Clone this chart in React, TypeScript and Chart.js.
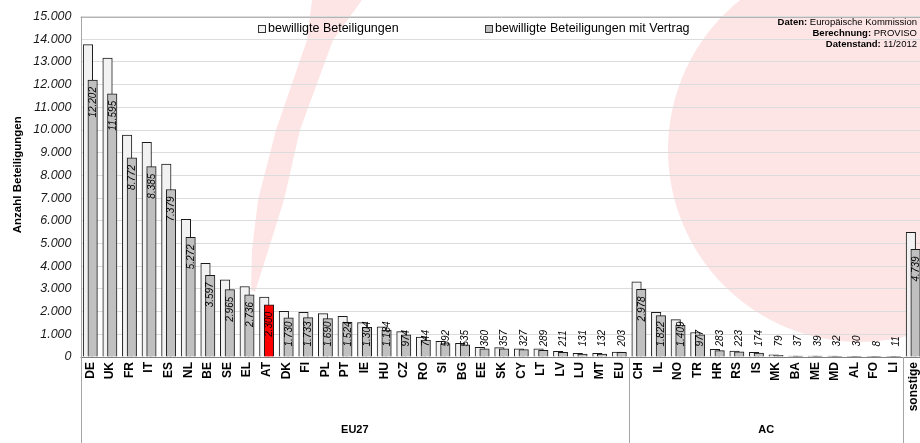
import React, { useEffect, useRef } from 'react';
import { Chart, registerables } from 'chart.js';

Chart.register(...registerables);

// ---------- data ----------
const categories = [
  'DE', 'UK', 'FR', 'IT', 'ES', 'NL', 'BE', 'SE', 'EL', 'AT', 'DK', 'FI', 'PL', 'PT',
  'IE', 'HU', 'CZ', 'RO', 'SI', 'BG', 'EE', 'SK', 'CY', 'LT', 'LV', 'LU', 'MT', 'EU',
  'CH', 'IL', 'NO', 'TR', 'HR', 'RS', 'IS', 'MK', 'BA', 'ME', 'MD', 'AL', 'FO', 'LI',
  'sonstige',
];

const approved = [
  13760, 13170, 9780, 9460, 8500, 6065, 4125, 3400, 3105, 2640, 2010, 1970, 1910, 1790,
  1515, 1325, 1120, 875, 685, 600, 424, 410, 365, 360, 250, 165, 160, 220,
  3310, 1970, 1650, 1080, 335, 260, 210, 100, 45, 45, 40, 35, 10, 15,
  5495,
];

const withContract = [
  12202, 11595, 8772, 8385, 7379, 5272, 3597, 2965, 2736, 2300, 1730, 1733, 1690, 1524,
  1304, 1184, 974, 744, 592, 535, 360, 357, 327, 289, 211, 131, 132, 203,
  2978, 1822, 1409, 977, 283, 223, 174, 79, 37, 39, 32, 30, 8, 11,
  4739,
];

const highlighted = 'AT';

const groups = [
  { label: 'EU27', first: 'DE', last: 'EU' },
  { label: 'AC', first: 'CH', last: 'LI' },
];

const legendLabels = ['bewilligte Beteiligungen', 'bewilligte Beteiligungen mit Vertrag'];
const yTitle = 'Anzahl Beteiligungen';
const sourceLines = [
  ['Daten:', ' Europäische Kommission'],
  ['Berechnung:', ' PROVISO'],
  ['Datenstand:', ' 11/2012'],
];
const yMin = 0;
const yMax = 15000;
const yStep = 1000;

// ---------- styles ----------
const FONT = 'Arial, "Liberation Sans", sans-serif';
const WHITE_FILL = '#f2f2f2';
const GRAY_FILL = '#c0c0c0';
const RED_FILL = '#ff0000';
const BAR_BORDER = '#1a1a1a';
const PINK = '#fde5e5';
const BAR_SHIFT = 2.35;

const fmt = (n: number) => String(Math.round(n)).replace(/\B(?=(\d{3})+(?!\d))/g, '.');

export default function App() {
  const ref = useRef<HTMLCanvasElement | null>(null);

  useEffect(() => {
    const canvas = ref.current;
    if (!canvas) return;

    const watermark = {
      id: 'watermark',
      beforeDraw(chart: any) {
        const ctx = chart.ctx;
        ctx.save();
        ctx.fillStyle = PINK;
        ctx.beginPath();
        ctx.arc(860, 150, 192, 0, Math.PI * 2);
        ctx.fill();
        // brush stroke
        const right = [[362, 0], [333, 40], [300, 130], [284, 200], [262, 270], [255, 292]];
        const left = [[251, 290], [252, 250], [258, 200], [276, 130], [307, 40], [312, 0]];
        ctx.beginPath();
        ctx.moveTo(right[0][0], right[0][1]);
        for (const p of right.slice(1)) ctx.lineTo(p[0], p[1]);
        for (const p of left) ctx.lineTo(p[0], p[1]);
        ctx.closePath();
        ctx.fill();
        ctx.restore();
      },
    };

    const shift = {
      id: 'shift',
      beforeDatasetDraw(chart: any, args: any) {
        chart.ctx.save();
        chart.ctx.translate(args.index === 0 ? -BAR_SHIFT : BAR_SHIFT, 0);
      },
      afterDatasetDraw(chart: any) {
        chart.ctx.restore();
      },
    };

    const decorations = {
      id: 'decorations',
      beforeDatasetsDraw(chart: any) {
        const { ctx, chartArea } = chart;
        ctx.save();
        ctx.strokeStyle = '#b4b4b4';
        ctx.lineWidth = 1;
        ctx.beginPath();
        ctx.moveTo(chartArea.left, Math.round(chartArea.top) + 0.5);
        ctx.lineTo(chartArea.right, Math.round(chartArea.top) + 0.5);
        ctx.stroke();
        ctx.restore();
      },
      afterDatasetsDraw(chart: any) {
        const { ctx, chartArea, scales } = chart;
        const x = scales.x;
        const H = chart.height;

        // data labels for the "mit Vertrag" series
        const meta = chart.getDatasetMeta(1);
        ctx.save();
        ctx.font = `italic 10px ${FONT}`;
        ctx.fillStyle = '#000';
        ctx.textAlign = 'left';
        ctx.textBaseline = 'middle';
        meta.data.forEach((el: any, i: number) => {
          const txt = fmt(withContract[i]);
          const w = ctx.measureText(txt).width;
          const bottom = Math.min(el.y + 7 + w, el.base - 10);
          ctx.save();
          ctx.translate(el.x + BAR_SHIFT + 0.5, bottom);
          ctx.rotate(-Math.PI / 2);
          ctx.fillText(txt, 0, 0);
          ctx.restore();
        });
        ctx.restore();

        // axis lines
        const bottomY = Math.round(chartArea.bottom) + 0.5;
        const leftX = Math.round(chartArea.left) + 0.5;
        ctx.save();
        ctx.strokeStyle = '#7f7f7f';
        ctx.lineWidth = 1;
        ctx.beginPath();
        ctx.moveTo(chartArea.left, bottomY);
        ctx.lineTo(chartArea.right, bottomY);
        ctx.stroke();
        ctx.strokeStyle = '#a6a6a6';
        ctx.beginPath();
        ctx.moveTo(leftX, chartArea.top);
        ctx.lineTo(leftX, H);
        ctx.stroke();

        // group separators and labels
        const half = (x.getPixelForValue(1) - x.getPixelForValue(0)) / 2;
        const sepXs: number[] = [];
        groups.forEach((g) => {
          const a = categories.indexOf(g.first);
          const b = categories.indexOf(g.last);
          const x0 = x.getPixelForValue(a) - half;
          const x1 = x.getPixelForValue(b) + half;
          sepXs.push(x1);
          ctx.fillStyle = '#000';
          ctx.font = `bold 11px ${FONT}`;
          ctx.textAlign = 'center';
          ctx.textBaseline = 'middle';
          ctx.fillText(g.label, (x0 + x1) / 2, 430);
        });
        sepXs.forEach((sx) => {
          const px = Math.round(sx) + 0.5;
          ctx.beginPath();
          ctx.moveTo(px, chartArea.bottom);
          ctx.lineTo(px, H);
          ctx.stroke();
        });

        // y axis title
        ctx.save();
        ctx.translate(18, (chartArea.top + chartArea.bottom) / 2 - 12);
        ctx.rotate(-Math.PI / 2);
        ctx.font = `bold 11.5px ${FONT}`;
        ctx.fillStyle = '#000';
        ctx.textAlign = 'center';
        ctx.textBaseline = 'middle';
        ctx.fillText(yTitle, 0, 0);
        ctx.restore();

        // legend
        const legendY = chartArea.top + 12.5;
        const legendX = [258, 485];
        const fills = [WHITE_FILL, GRAY_FILL];
        ctx.font = `12.5px ${FONT}`;
        ctx.textAlign = 'left';
        ctx.textBaseline = 'middle';
        legendLabels.forEach((lab, i) => {
          ctx.fillStyle = fills[i];
          ctx.fillRect(legendX[i] + 0.5, legendY - 3.5, 7, 7);
          ctx.strokeStyle = '#333';
          ctx.strokeRect(legendX[i] + 0.5, legendY - 3.5, 7, 7);
          ctx.fillStyle = '#000';
          ctx.fillText(lab, legendX[i] + 10, legendY);
        });

        // source note
        const rightX = 917;
        sourceLines.forEach((ln, i) => {
          const yy = chartArea.top + 5.5 + i * 11;
          ctx.textBaseline = 'middle';
          ctx.textAlign = 'right';
          ctx.font = `9.5px ${FONT}`;
          ctx.fillStyle = '#000';
          const w2 = ctx.measureText(ln[1]).width;
          ctx.fillText(ln[1], rightX, yy);
          ctx.font = `bold 9.5px ${FONT}`;
          ctx.fillText(ln[0], rightX - w2, yy);
        });
        ctx.restore();
      },
    };

    const chart = new Chart(canvas, {
      type: 'bar',
      data: {
        labels: categories,
        datasets: [
          {
            label: legendLabels[0],
            data: approved,
            backgroundColor: WHITE_FILL,
            borderColor: BAR_BORDER,
            borderWidth: 1,
            barThickness: 9.5,
            grouped: false,
            order: 1,
          } as any,
          {
            label: legendLabels[1],
            data: withContract,
            backgroundColor: categories.map((c) => (c === highlighted ? RED_FILL : GRAY_FILL)),
            borderColor: BAR_BORDER,
            borderWidth: 1,
            barThickness: 9.5,
            grouped: false,
            order: 0,
          } as any,
        ],
      },
      options: {
        animation: false,
        responsive: false,
        maintainAspectRatio: false,
        devicePixelRatio: 1,
        layout: { padding: { top: 14, left: 0, right: 0, bottom: 0 } },
        plugins: { legend: { display: false }, tooltip: { enabled: false } },
        scales: {
          x: {
            grid: { display: false, drawTicks: false },
            border: { display: false },
            ticks: {
              autoSkip: false,
              maxRotation: 90,
              minRotation: 90,
              padding: 5,
              color: '#000',
              font: { family: FONT, size: 12, weight: 'bold' },
            },
            afterFit: (s: any) => {
              s.height = 86;
              s.paddingLeft = 0;
              s.paddingRight = 0;
            },
          },
          y: {
            min: yMin,
            max: yMax,
            grid: { color: '#dcdcdc', drawTicks: false },
            border: { display: false },
            ticks: {
              stepSize: yStep,
              padding: 9,
              color: '#1a1a1a',
              font: { family: FONT, size: 12.5, style: 'italic' },
              callback: (v: any) => fmt(Number(v)),
            },
            afterFit: (s: any) => {
              s.width = 80.5;
            },
          },
        },
      } as any,
      plugins: [watermark, shift, decorations],
    });

    return () => chart.destroy();
  }, []);

  return (
    <div
      style={{
        position: 'fixed',
        left: 0,
        top: 0,
        width: 920,
        height: 443,
        overflow: 'hidden',
        background: '#fff',
      }}
    >
      <canvas ref={ref} width={923} height={443} style={{ width: 923, height: 443, display: 'block' }} />
    </div>
  );
}
